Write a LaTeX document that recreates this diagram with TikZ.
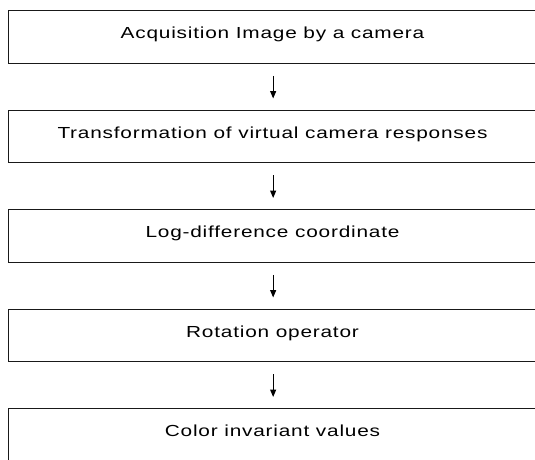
\documentclass[tikz,border=0pt]{standalone}
\usepackage{fontspec}
\setmainfont{Liberation Sans}[FakeStretch=1.3,LetterSpace=5]
\usetikzlibrary{arrows.meta}
\begin{document}
\begin{tikzpicture}[x=1pt,y=-1pt,
  stepbox/.style={draw=black!90,line width=1.3pt,rectangle,minimum width=529pt,minimum height=52.5pt,anchor=north west,inner sep=0pt},
  lbl/.style={anchor=base,inner sep=0pt,font=\fontsize{16pt}{19pt}\selectfont},
  flow/.style={draw=black,line width=1.1pt,-{Triangle[length=7.5pt,width=6pt]},shorten <=12pt,shorten >=11pt}]
\useasboundingbox (0,0) rectangle (535,459);
\node[stepbox] (b1) at (8,10) {};
\node[stepbox] (b2) at (8,109.5) {};
\node[stepbox] (b3) at (8,209) {};
\node[stepbox] (b4) at (8,308.5) {};
\node[stepbox] (b5) at (8,408) {};
\node[lbl] (t1) at (272.5,38.5) {Acquisition Image by a camera};
\node[lbl] (t2) at (272.5,138) {Transformation of virtual camera responses};
\node[lbl] (t3) at (272.5,237.5) {Log-difference coordinate};
\node[lbl] (t4) at (272.5,337) {Rotation operator};
\node[lbl] (t5) at (272.5,436.5) {Color invariant values};
\draw[flow] (b1.south) -- (b2.north);
\draw[flow] (b2.south) -- (b3.north);
\draw[flow] (b3.south) -- (b4.north);
\draw[flow] (b4.south) -- (b5.north);
\end{tikzpicture}
\end{document}
